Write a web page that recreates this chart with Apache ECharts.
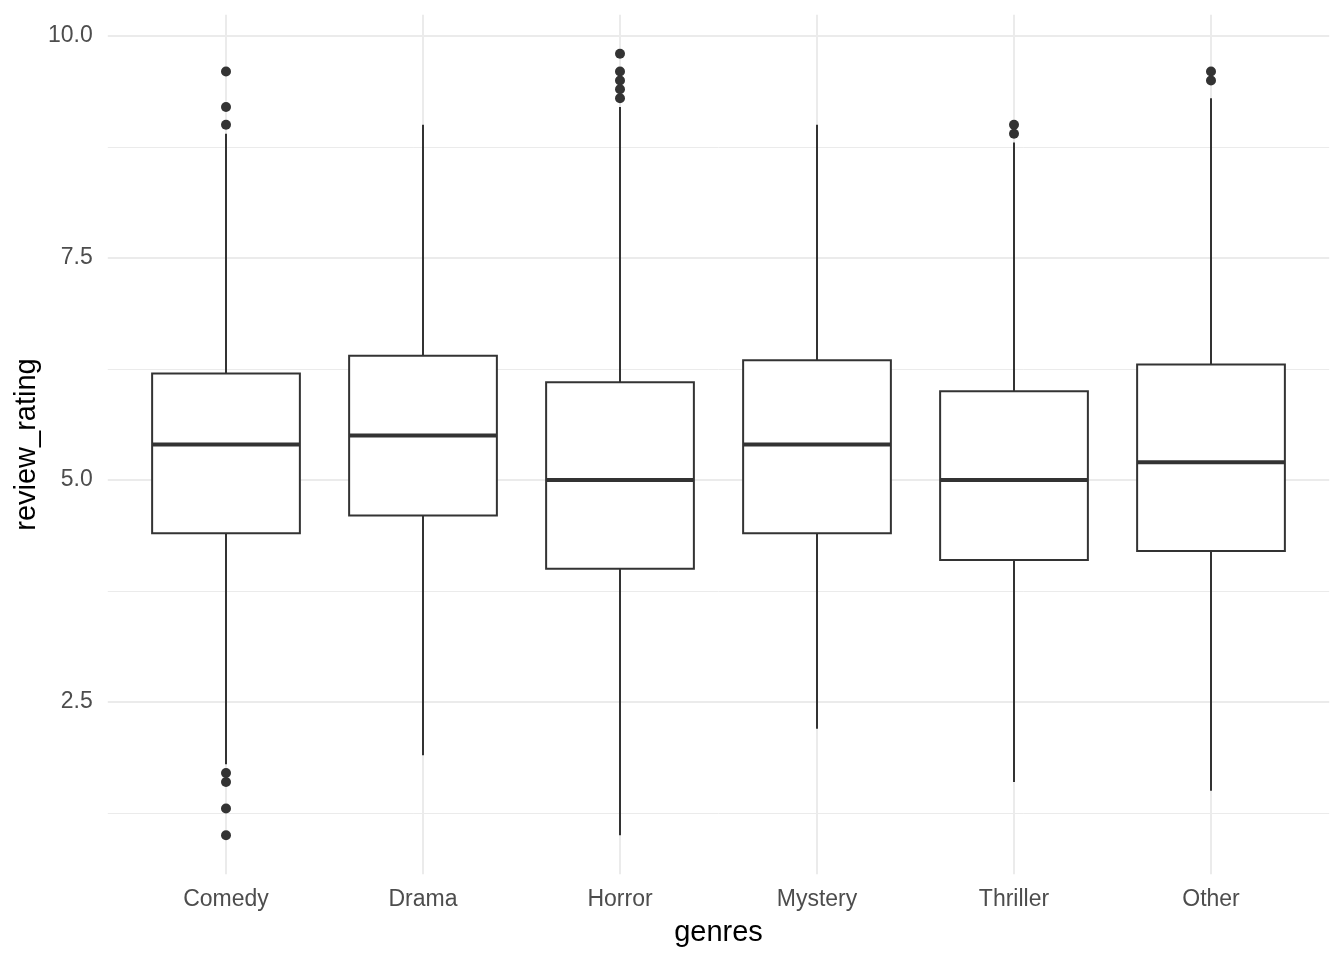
<!DOCTYPE html>
<html>
<head>
<meta charset="utf-8">
<script src="https://cdn.jsdelivr.net/npm/echarts@6/dist/echarts.min.js"></script>
<style>
html,body{margin:0;padding:0;background:#fff;}
#chart{width:1344px;height:960px;}
</style>
</head>
<body>
<div id="chart"></div>
<script>
// ---- data ----
const categories   = ['Comedy', 'Drama', 'Horror', 'Mystery', 'Thriller', 'Other'];
const whiskerLow   = [1.8, 1.9, 1.0, 2.2, 1.6, 1.5];
const q1           = [4.4, 4.6, 4.0, 4.4, 4.1, 4.2];
const median       = [5.4, 5.5, 5.0, 5.4, 5.0, 5.2];
const q3           = [6.2, 6.4, 6.1, 6.35, 6.0, 6.3];
const whiskerHigh  = [8.9, 9.0, 9.2, 9.0, 8.8, 9.3];
const outlierGenre = ['Comedy','Comedy','Comedy','Comedy','Comedy','Comedy','Comedy',
                      'Horror','Horror','Horror','Horror','Horror',
                      'Thriller','Thriller','Other','Other'];
const outlierValue = [9.6, 9.2, 9.0, 1.7, 1.6, 1.3, 1.0,
                      9.8, 9.6, 9.5, 9.4, 9.3,
                      9.0, 8.9, 9.6, 9.5];
const yMajorTicks  = [2.5, 5.0, 7.5, 10.0];
const yMinorTicks  = [1.25, 3.75, 6.25, 8.75];

// ---- build series data ----
const boxData = categories.map((c, i) => [i, whiskerLow[i], q1[i], median[i], q3[i], whiskerHigh[i]]);
const outlierData = outlierGenre.map((g, k) => [categories.indexOf(g), outlierValue[k]]);
const allVals = whiskerLow.concat(whiskerHigh, outlierValue);
const dMin = Math.min.apply(null, allVals), dMax = Math.max.apply(null, allVals);
const pad = (dMax - dMin) * 0.05;
const yMin = dMin - pad, yMax = dMax + pad;

const FONT = '"Liberation Sans", Arial, sans-serif';
const INK = '#333333';
const GRID = '#EBEBEB';

const chart = echarts.init(document.getElementById('chart'), null, {renderer: 'canvas'});
chart.setOption({
  backgroundColor: '#ffffff',
  animation: false,
  grid: {left: 107.8, top: 14.7, width: 1221.4, height: 859.6, containLabel: false},
  xAxis: {
    type: 'value',
    min: -0.6, max: categories.length - 0.4,
    name: 'genres',
    nameLocation: 'middle',
    nameGap: 44,
    nameMoveOverlap: false,
    nameTextStyle: {fontFamily: FONT, fontSize: 29, color: '#000000'},
    axisLine: {show: false},
    axisTick: {show: false, customValues: categories.map((c, i) => i)},
    axisLabel: {
      customValues: categories.map((c, i) => i),
      formatter: v => categories[Math.round(v)],
      fontFamily: FONT, fontSize: 23, color: '#4D4D4D', margin: 14
    },
    splitLine: {show: true, lineStyle: {color: GRID, width: 2}}
  },
  yAxis: [{
    type: 'value',
    min: yMin, max: yMax,
    name: 'review_rating',
    nameLocation: 'middle',
    nameGap: 66,
    nameMoveOverlap: false,
    nameTextStyle: {fontFamily: FONT, fontSize: 29, color: '#000000'},
    axisLine: {show: false},
    axisTick: {show: false, customValues: yMajorTicks},
    axisLabel: {
      customValues: yMajorTicks,
      formatter: v => v.toFixed(1),
      fontFamily: FONT, fontSize: 23, color: '#4D4D4D', margin: 15
    },
    splitLine: {show: true, lineStyle: {color: GRID, width: 2}}
  }, {
    type: 'value',
    position: 'left',
    min: yMin, max: yMax,
    axisLine: {show: false},
    axisTick: {show: false, customValues: yMinorTicks},
    axisLabel: {show: false, customValues: yMinorTicks},
    splitLine: {show: true, lineStyle: {color: GRID, width: 1}}
  }],
  series: [{
    type: 'custom',
    xAxisIndex: 0, yAxisIndex: 0,
    data: boxData,
    z: 3,
    renderItem: function (params, api) {
      const x = api.value(0);
      const lo = api.coord([x, api.value(1)]);
      const p1 = api.coord([x, api.value(2)]);
      const pm = api.coord([x, api.value(3)]);
      const p3 = api.coord([x, api.value(4)]);
      const hi = api.coord([x, api.value(5)]);
      const halfW = api.size([0.75, 0])[0] / 2;
      const cx = Math.round(lo[0]);
      return {
        type: 'group',
        children: [
          {type: 'line', shape: {x1: cx, y1: p3[1], x2: cx, y2: hi[1]},
           style: {stroke: INK, lineWidth: 2}},
          {type: 'line', shape: {x1: cx, y1: p1[1], x2: cx, y2: lo[1]},
           style: {stroke: INK, lineWidth: 2}},
          {type: 'rect', shape: {x: cx - halfW, y: p3[1], width: halfW * 2, height: p1[1] - p3[1]},
           style: {fill: '#ffffff', stroke: INK, lineWidth: 2}},
          {type: 'line', shape: {x1: cx - halfW, y1: pm[1], x2: cx + halfW, y2: pm[1]},
           style: {stroke: INK, lineWidth: 4}}
        ]
      };
    }
  }, {
    type: 'scatter',
    xAxisIndex: 0, yAxisIndex: 0,
    data: outlierData,
    symbol: 'circle',
    symbolSize: 10,
    z: 4,
    itemStyle: {color: INK, opacity: 1}
  }]
});
</script>
</body>
</html>
